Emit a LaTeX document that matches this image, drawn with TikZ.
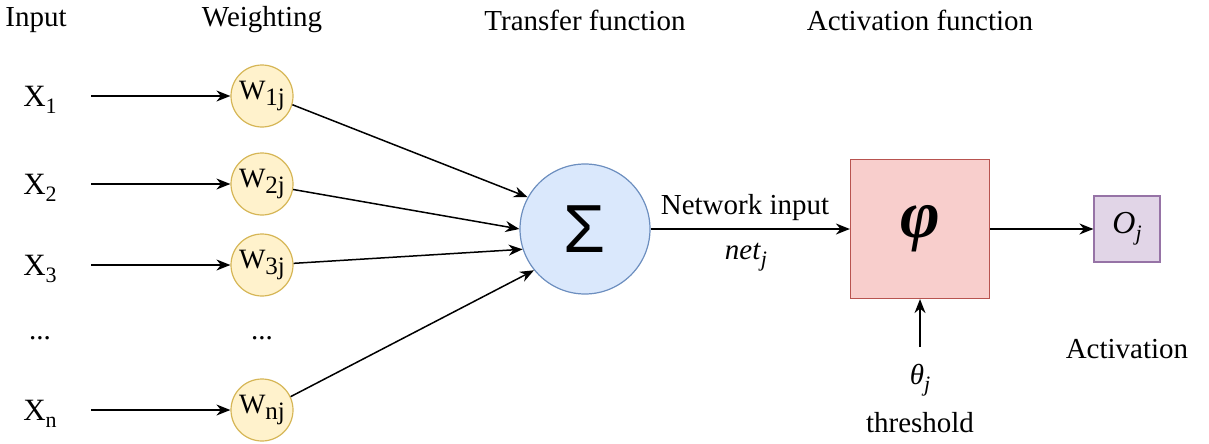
\documentclass[tikz,border=0pt]{standalone}
\usepackage{fontspec}
\setmainfont{Liberation Serif}
\newfontfamily\sigmafont{Liberation Sans}
\usepackage{graphicx}
\usetikzlibrary{arrows.meta, positioning}
\definecolor{pesofill}{HTML}{FFF2CC}
\definecolor{pesodraw}{HTML}{D6B656}
\definecolor{sommafill}{HTML}{DAE8FC}
\definecolor{sommadraw}{HTML}{6C8EBF}
\definecolor{attfill}{HTML}{F8CECC}
\definecolor{attdraw}{HTML}{B85450}
\definecolor{uscitafill}{HTML}{E1D5E7}
\definecolor{uscitadraw}{HTML}{9673A6}
\newcommand{\pedice}[1]{\raisebox{-7pt}{\fontsize{22}{24}\selectfont #1}}

\begin{document}
\begin{tikzpicture}[x = 1pt, y = -1pt, font = \fontsize{29}{34}\selectfont,
    freccia/.style = {-{Stealth[length = 14pt, width = 11pt]}, line width = 1.5pt},
    peso/.style = {circle, draw = pesodraw, fill = pesofill, line width = 1.2pt,
        minimum size = 62pt, inner sep = 0pt, font = \fontsize{28}{30}\selectfont},
    somma/.style = {circle, draw = sommadraw, fill = sommafill, line width = 1.2pt,
        minimum size = 130pt, inner sep = 0pt},
    quadro/.style = {rectangle, line width = 1.2pt, inner sep = 0pt}]
    \useasboundingbox (0,0) rectangle (1209,444);
    % Titoli
    \node (tIn) at (36,20) {Input};
    \node (tPeso) at (262,20) {Weighting};
    \node (tTrasf) at (585,20) {Transfer function};
    \node (tAtt) at (920,20) {Activation function};
    % Ingressi e pesi
    \foreach \k/\y in {1/96, 2/184, 3/265, n/410}{
        \node[font = \fontsize{31}{34}\selectfont] (x\k) at (40,{\y+4}) {X\pedice{\k}};
        \coordinate (s\k) at (91,\y);
        \node[peso] (w\k) at (262,\y) {W\raisebox{-6pt}{\fontsize{25}{27}\selectfont\k j}};
        \draw[freccia] (s\k) -- (w\k);
    }
    \node (xdots) at (40,338) {...};
    \node (wdots) at (262,338) {...};
    % Somma
    \node[somma] (sum) at (585,229) {\fontsize{68}{70}\selectfont\sigmafont Σ};
    \foreach \k/\a/\b in {1/-16/151, 2/-10/180, 3/3/198, n/25/219}{
        \draw[freccia] (w\k.\a) -- (sum.\b);
    }
    % Attivazione
    \node[quadro, draw = attdraw, fill = attfill, minimum size = 139pt] (phi) at (920,229)
        {\fontsize{68}{70}\selectfont\bfseries\itshape φ};
    \draw[freccia] (sum.east) -- (phi.west);
    \node (netin) at (745,208) {Network input};
    \node (net) at (746,257) {\textit{net}\pedice{\textit{j}}};
    \coordinate (t0) at (920,347);
    \draw[freccia] (t0) -- (phi.south);
    \node (theta) at (920,380) {\textit{θ}\pedice{\textit{j}}};
    \node (soglia) at (920,423) {threshold};
    % Uscita
    \node[quadro, draw = uscitadraw, fill = uscitafill, minimum size = 66pt] (out) at (1127,229)
        {\fontsize{32}{34}\selectfont\textit{O}\pedice{\textit{j}}};
    \draw[freccia] (phi.east) -- (out.west);
    \node (att) at (1127,349) {Activation};
\end{tikzpicture}
\end{document}
